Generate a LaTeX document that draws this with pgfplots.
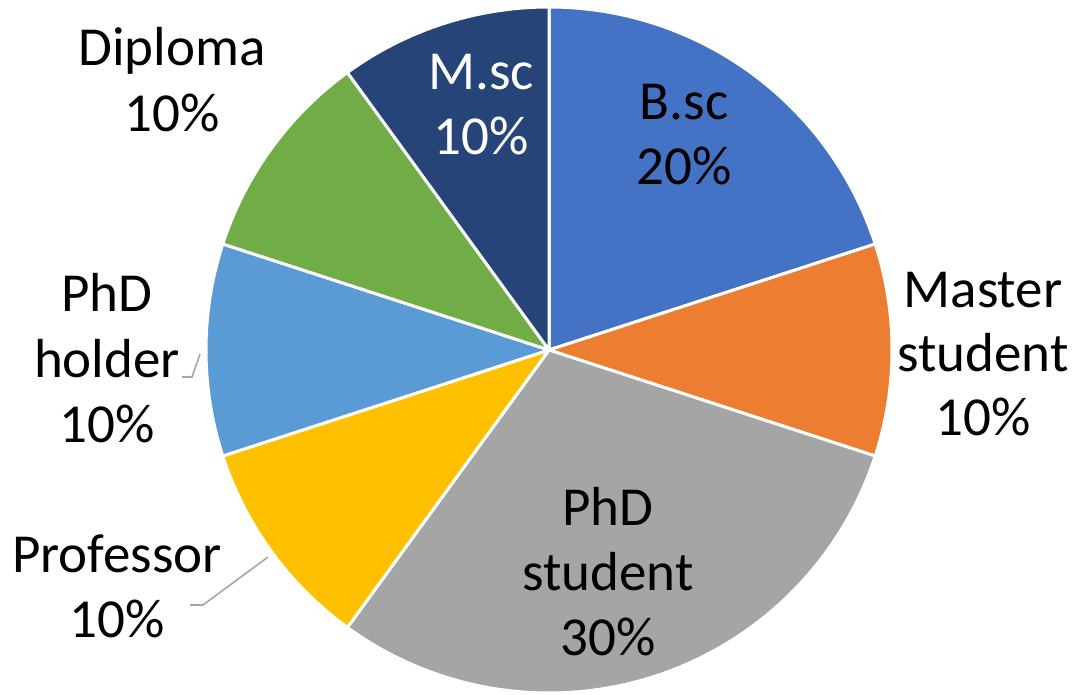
\documentclass[border=0pt]{standalone}
\usepackage{pgfplots}
\pgfplotsset{compat=1.18}
\usepackage{fontspec}
\setmainfont{Carlito}
\definecolor{cBsc}{HTML}{4472C4}
\definecolor{cMaster}{HTML}{ED7D31}
\definecolor{cPhDs}{HTML}{A5A5A5}
\definecolor{cProf}{HTML}{FFC000}
\definecolor{cPhDh}{HTML}{5B9BD5}
\definecolor{cDipl}{HTML}{70AD47}
\definecolor{cMsc}{HTML}{264478}
\begin{document}
\begin{tikzpicture}
\begin{axis}[scale only axis, width=537pt, height=346.5pt,
  xmin=0, xmax=1074, ymin=0, ymax=693, hide axis, clip=false]
% shares in percent, clockwise from 12 o'clock
\def\acc{90}
\foreach \v/\c in {20/cBsc,10/cMaster,30/cPhDs,10/cProf,10/cPhDh,10/cDipl,10/cMsc}{
  \pgfmathsetmacro\a{\acc-3.6*\v}
  \edef\tmp{\noexpand\addplot[fill=\c, draw=white, line width=1.5pt, line join=round,
     domain=\a:\acc, samples=80] ({549+343*cos(x)},{343+343*sin(x)}) -- (axis cs:549,343) -- cycle;}
  \tmp
  \xdef\acc{\a}
}
\addplot[color=black!35, line width=0.8pt] coordinates {(182,316) (192,316) (200,339)};
\addplot[color=black!35, line width=0.8pt] coordinates {(190,88) (203,88) (268,136)};
\tikzset{lab/.style={anchor=base, inner sep=0pt, font=\fontsize{27.5}{33}\selectfont}}
\node[lab] at (axis cs:172,627) {Diploma};
\node[lab] at (axis cs:172,561) {10\%};
\node[lab] at (axis cs:107,381) {PhD};
\node[lab] at (axis cs:107,316) {holder};
\node[lab] at (axis cs:107,251) {10\%};
\node[lab] at (axis cs:117,121) {Professor};
\node[lab] at (axis cs:117,56) {10\%};
\node[lab] at (axis cs:983,386) {Master};
\node[lab] at (axis cs:983,322) {student};
\node[lab] at (axis cs:983,258) {10\%};
\node[lab, white] at (axis cs:481,603) {M.sc};
\node[lab, white] at (axis cs:481,538) {10\%};
\node[lab] at (axis cs:684,573) {B.sc};
\node[lab] at (axis cs:684,508) {20\%};
\node[lab] at (axis cs:608,168) {PhD};
\node[lab] at (axis cs:608,103) {student};
\node[lab] at (axis cs:608,38) {30\%};
\path (axis cs:0,0) rectangle (axis cs:1074,693);
\end{axis}
\end{tikzpicture}
\end{document}
